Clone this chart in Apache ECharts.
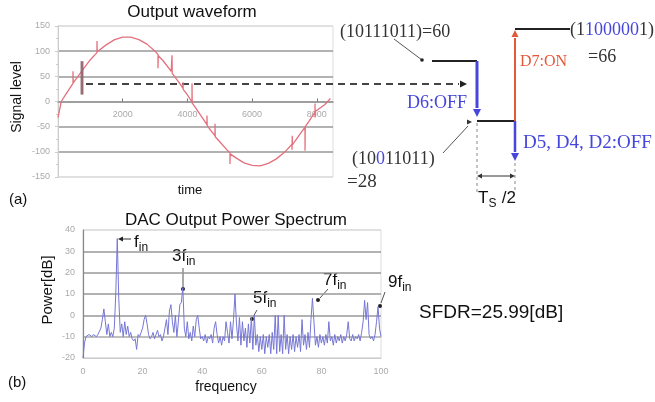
<!DOCTYPE html>
<html><head><meta charset="utf-8">
<script src="https://cdn.jsdelivr.net/npm/echarts/dist/echarts.min.js"></script>
<style>html,body{margin:0;padding:0;background:#fff}#c{width:655px;height:402px}</style>
</head><body><div id="c"></div>
<script>
// ---- (a) output waveform (time, signal level), glitches included ----
const waveTime = [0,100,250,464,464,470,500,742,742,745,750,1000,1205,1205,1212,1250,1500,1750,2000,2250,2500,2750,3000,3091,3091,3098,3250,3500,3524,3524,3530,3750,3864,3864,3870,4000,4142,4142,4148,4250,4500,4605,4605,4611,4750,4853,4853,4860,5000,5250,5316,5316,5322,5500,5750,6000,6250,6500,6750,7000,7233,7233,7240,7245,7500,7635,7635,7642,7750,7944,7944,7948,7952,8000,8250,8420];
const waveLevel = [-32,0,15,36,60,37,39,61,80,14,62,83,97,120,99,100,113,123,128,128,123,114,100,93,66,91,81,60,58,92,56,37,26,38,24,13,-1,36,-3,-12,-36,-46,-28,-48,-60,-68,-44,-70,-80,-98,-102,-124,-104,-112,-122,-127,-128,-123,-114,-101,-85,-96,-68,-86,-63,-51,-98,-50,-40,-21,-4,-32,-20,-17,-6,6];
const glitchTime = [742,742];
const glitchLevel = [80,14];
const waveXTicks = {min:0, max:8500, interval:2000};
const waveYTicks = {min:-150, max:150, interval:50};

// ---- (b) DAC output power spectrum, 0..100 step 0.5 ----
const specStep = 0.5;
const specPower = [
 -20,-13,-10,-10,-9,-9,-10,-9,-9,-10,
 -9,-9,-6,-2,3,-3,-9,-4,-10,-8,
 -10,-6,10,36,8,-8,-4,-10,-3,-9,
 -5,-10,-8,-11,-12,-11,-16,-9,-10,-8,
 -6,-2,0,-4,-9,-11,-10,-8,-11,-9,
 -7,-10,-9,-12,-10,-6,-2,-9,2,5,
 -3,-8,0,-10,-3,5,6,13,-6,-10,
 -3,-11,-8,-12,-5,-10,-2,0,-6,-11,
 -10,-12,-9,-13,-10,-11,-9,-13,-6,-3,
 -9,-13,-10,-14,-10,-12,-3,-8,-13,-3,
 -11,-2,10,-4,-12,-1,-14,-3,-12,-6,
 -15,-4,-13,-1,-16,0,-14,-9,-17,-10,
 -16,-9,-18,-10,-15,-9,-18,-8,-16,0,
 -18,0,-17,-9,-18,0,-16,-9,-18,-10,
 -16,-9,-17,-10,-15,-9,-17,-2,-14,-9,
 -16,-8,-15,-2,8,-3,-14,-10,-15,-9,
 -13,-10,-14,-9,-13,-3,-12,-10,-14,-9,
 -13,-10,-12,-9,-13,-10,-12,-9,-3,-11,
 -12,-9,-12,-10,-11,-9,-12,-8,-3,7,
 -2,6,-9,-11,-10,-12,-9,-3,4,-6,
 -10];
const specXTicks = {min:0, max:100, interval:20};
const specYTicks = {min:-20, max:40, interval:10};

const SANS = 'Liberation Sans, Arial, sans-serif';
const SERIF = 'Liberation Serif, Times New Roman, serif';
const BLUE = '#4646dc', RED = '#e4583a', DARK = '#333';

const chart = echarts.init(document.getElementById('c'), null, {renderer:'canvas'});
const mctx = document.createElement('canvas').getContext('2d');
function tw(t, size, fam){ mctx.font = size + 'px ' + fam; return mctx.measureText(t).width; }

function seg(x1,y1,x2,y2,color,w,dash){ return {type:'line', silent:true, shape:{x1,y1,x2,y2}, style:{stroke:color, lineWidth:w, lineDash:dash||null}}; }
function head(x,y,dir,color,s){
  s = s||4; let p;
  if(dir==='down') p=[[x-s,y-2*s],[x+s,y-2*s],[x,y]];
  else if(dir==='up') p=[[x-s,y+2*s],[x+s,y+2*s],[x,y]];
  else if(dir==='left') p=[[x+2*s,y-s],[x+2*s,y+s],[x,y]];
  else p=[[x-2*s,y-s],[x-2*s,y+s],[x,y]];
  return {type:'polygon', silent:true, shape:{points:p}, style:{fill:color}};
}
function dot(x,y,r,color){ return {type:'circle', silent:true, shape:{cx:x,cy:y,r:r}, style:{fill:color}}; }
function txt(x,y,t,o){ o=o||{}; return {type:'text', silent:true, x:x, y:y, rotation:o.rot||0,
  style:{text:t, fill:o.color||'#111', fontSize:o.size||14, fontFamily:o.fam||SANS, align:o.align||'left', verticalAlign:o.va||'middle'}}; }
function subText(x,y,main,sub,size,fam){
  const w = tw(main,size,fam||SANS);
  return [txt(x,y,main,{size:size,fam:fam}), txt(x+w,y+size*0.33,sub,{size:Math.round(size*0.72),fam:fam})];
}
function rich(x,y,parts,size,fam){
  let out=[], cx=x;
  parts.forEach(p=>{ out.push(txt(cx,y,p[0],{size:size,fam:fam,color:p[1]})); cx+=tw(p[0],size,fam); });
  return out;
}

const graphics = [].concat(
  // titles and axis names
  [txt(192,12,'Output waveform',{size:17,align:'center'}),
   txt(17,97,'Signal level',{size:14,align:'center',rot:Math.PI/2}),
   txt(190,190,'time',{size:13,align:'center'}),
   txt(9,200,'(a)',{size:15}),
   txt(236,220,'DAC Output Power Spectrum',{size:17,align:'center'}),
   txt(48,290,'Power[dB]',{size:15,align:'center',rot:Math.PI/2}),
   txt(226,387,'frequency',{size:14,align:'center'}),
   txt(8,383,'(b)',{size:15}),
   txt(419,313,'SFDR=25.99[dB]',{size:19})],
  // dashed arrow from waveform into schematic
  [seg(86,84,459,84,'#444',2,[7,5]), head(467,84,'right','#222',3.5)],
  // schematic
  rich(340,32,[['(10111011)=60',DARK]],18,SERIF),
  [seg(394,39,422,60,'#555',1), dot(422,60,1.8,'#222'),
   seg(432,61,477,61,'#222',2),
   seg(477,61,477,108,BLUE,3), head(477,117,'down',BLUE,4),
   txt(467,103,'D6:OFF',{size:18,fam:SERIF,color:BLUE,align:'right'}),
   seg(477,121,515,121,'#222',2),
   seg(515,121,515,152,BLUE,2.5), head(515,161,'down',BLUE,4),
   seg(515,121,515,38,RED,2), head(515,30,'up',RED,3.5),
   seg(515,29,570,29,'#222',2),
   txt(520,62,'D7:ON',{size:16,fam:SERIF,color:RED}),
   txt(588,57,'=66',{size:18,fam:SERIF,color:DARK}),
   txt(523,143,'D5, D4, D2:OFF',{size:19,fam:SERIF,color:BLUE}),
   txt(347,182,'=28',{size:19,fam:SERIF,color:DARK}),
   seg(443,153,468,126,'#555',1), head(472,122,'right','#333',2.5),
   seg(477,123,477,192,'#888',1,[3,3]),
   seg(515,163,515,192,'#888',1,[3,3]),
   seg(481,176,511,176,'#333',1), head(477,176,'left','#333',2.5), head(515,176,'right','#333',2.5)],
  rich(570,30,[['(1',DARK],['1',BLUE],['00000',BLUE],['1',DARK],[')',DARK]],18,SERIF),
  rich(352,159,[['(10',DARK],['0',BLUE],['11011)',DARK]],18,SERIF),
  subText(478,198,'T','S',17),
  [txt(497,198,' /2',{size:17})],
  // spectrum harmonic labels
  subText(134,242,'f','in',17),
  [seg(131,239,122,239,'#333',1), head(118,239,'left','#222',2.5)],
  subText(172,256,'3f','in',17),
  [seg(183,268,183,287,'#555',1), dot(183,289,2,'#222')],
  subText(253,298,'5f','in',17),
  [seg(257,310,253,317,'#555',1), dot(252,319,2,'#222')],
  subText(323,280,'7f','in',17),
  [seg(328,289,320,298,'#555',1), dot(318,300,2,'#222')],
  subText(388,282,'9f','in',17),
  [seg(385,292,381,303,'#555',1), dot(380,306,2,'#222')]
);

const splitColsA = ['#dcdcdc','#999','#999','#999','#999','#999','#dcdcdc'];
const splitColsB = ['#dcdcdc','#aaa','#999','#999','#999','#999','#dcdcdc'];
const lab = {color:'#aaa', fontSize:9, fontFamily:SANS};
const plain = v => String(v);

chart.setOption({
  animation:false,
  grid:[
    {left:58, top:26, width:275, height:151, show:true, borderColor:'#ddd', borderWidth:1},
    {left:83, top:230, width:298, height:128, show:true, borderColor:'#ddd', borderWidth:1}
  ],
  xAxis:[
    {gridIndex:0, type:'value', min:waveXTicks.min, max:waveXTicks.max, interval:waveXTicks.interval,
     position:'bottom', offset:-75.5,
     axisLine:{show:true, onZero:false, lineStyle:{color:'#999', width:1.5}},
     axisTick:{show:true, inside:true, length:3, lineStyle:{color:'#777'}},
     axisLabel:Object.assign({margin:9, showMinLabel:false, showMaxLabel:false, formatter:plain}, lab),
     splitLine:{show:false}},
    {gridIndex:1, type:'value', min:specXTicks.min, max:specXTicks.max, interval:specXTicks.interval,
     axisLine:{show:true, onZero:false, lineStyle:{color:'#ccc'}},
     axisTick:{show:false},
     axisLabel:Object.assign({margin:9, formatter:plain}, lab),
     splitLine:{show:false}}
  ],
  yAxis:[
    {gridIndex:0, type:'value', min:waveYTicks.min, max:waveYTicks.max, interval:waveYTicks.interval,
     axisLine:{show:true, lineStyle:{color:'#ccc'}},
     axisTick:{show:true, length:3, lineStyle:{color:'#ccc'}},
     minorTick:{show:true, splitNumber:2, length:2, lineStyle:{color:'#ccc'}},
     axisLabel:Object.assign({margin:8, formatter:plain}, lab),
     splitLine:{show:true, lineStyle:{color:splitColsA, width:1.5}}},
    {gridIndex:1, type:'value', min:specYTicks.min, max:specYTicks.max, interval:specYTicks.interval,
     axisLine:{show:true, lineStyle:{color:'#888', width:1.2}},
     axisTick:{show:false},
     axisLabel:Object.assign({margin:8, formatter:plain}, lab),
     splitLine:{show:true, lineStyle:{color:splitColsB, width:1.5}}}
  ],
  series:[
    {type:'line', xAxisIndex:0, yAxisIndex:0, symbol:'none', silent:true,
     lineStyle:{color:'#e4707e', width:1.3},
     data:waveTime.map((t,i)=>[t, waveLevel[i]]), z:3},
    {type:'line', xAxisIndex:0, yAxisIndex:0, symbol:'none', silent:true,
     lineStyle:{color:'rgba(140,100,110,0.85)', width:3},
     data:glitchTime.map((t,i)=>[t, glitchLevel[i]]), z:4},
    {type:'line', xAxisIndex:1, yAxisIndex:1, symbol:'none', silent:true,
     lineStyle:{color:'#7676d6', width:1},
     data:specPower.map((v,i)=>[i*specStep, v]), z:3}
  ],
  graphic:graphics
});
</script></body></html>
